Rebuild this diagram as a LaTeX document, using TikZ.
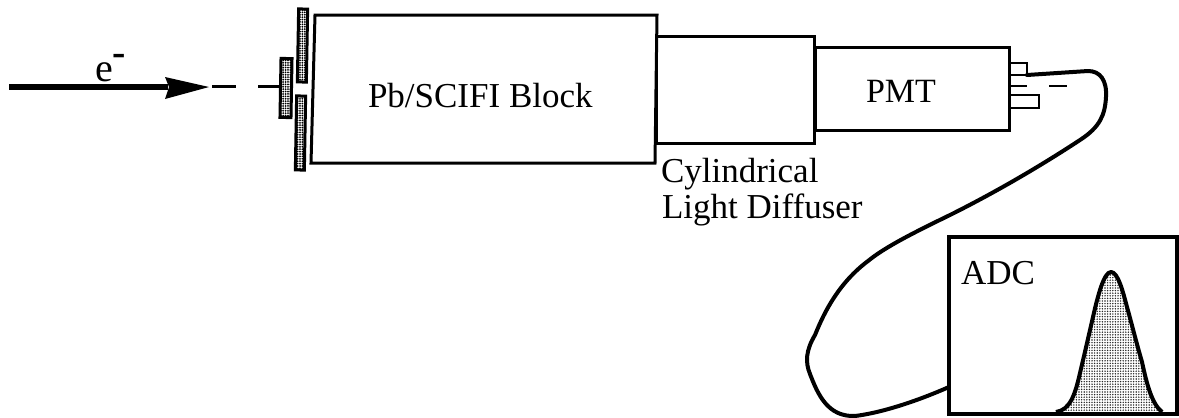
\documentclass[tikz,border=0pt]{standalone}
\usepackage{fontspec}
\setmainfont{Liberation Serif}
\usetikzlibrary{patterns.meta}
\tikzset{
  boxa/.style={draw=black,line width=3pt,rectangle,inner sep=0pt,outer sep=0pt},
  boxb/.style={draw=black,line width=3pt,rectangle,inner sep=0pt,outer sep=0pt},
  stub/.style={draw=black,line width=2.2pt,rectangle,inner sep=0pt,outer sep=0pt},
  plate/.style={draw=black,line width=3pt,rectangle,inner sep=0pt,outer sep=0pt,
    pattern={Dots[distance=2.4pt,radius=1pt]},pattern color=black,rotate=-1},
  cable/.style={draw=black,line width=4pt,line cap=round,line join=round},
  lbl/.style={inner sep=0pt,outer sep=0pt,anchor=base west,text=black},
  beam/.style={draw=black,line width=3pt}
}
\begin{document}
\begin{tikzpicture}[x=1pt,y=-1pt]
\useasboundingbox (0,0) rectangle (1179,418);
\fill[white] (0,0) rectangle (1179,418);

% scintillator plates
\node[plate,minimum width=9pt,minimum height=73pt] (upper) at (302.5,45.5) {};
\node[plate,minimum width=9pt,minimum height=74pt] (lower) at (300.5,133) {};
\node[plate,minimum width=11pt,minimum height=59pt] (front) at (286,88) {};

% block
\coordinate (bTL) at (315,15);
\coordinate (bTR) at (657,15);
\coordinate (bBR) at (655,163);
\coordinate (bBL) at (311,163);
\draw[line width=3pt,line join=miter] (bTL) -- (bTR) -- (bBR) -- (bBL) -- cycle;
\node[lbl,font=\fontsize{35}{38}\selectfont] (blocklabel) at (368,107) {Pb/SCIFI Block};

% diffuser and PMT
\node[boxb,minimum width=158pt,minimum height=107pt] (diff) at (735,90) {};
\node[boxb,minimum width=194pt,minimum height=83pt,fill=white] (pmt) at (912,88.5) {};
\node[lbl,font=\fontsize{34}{38}\selectfont] (pmtlabel) at (866,102) {PMT};
\node[lbl,font=\fontsize{35}{38}\selectfont] (cyl) at (661,182) {Cylindrical};
\node[lbl,font=\fontsize{35}{38}\selectfont] (lig) at (662,218) {Light Diffuser};

% PMT pins
\node[stub,minimum width=18pt,minimum height=12pt,anchor=north west] (pinA) at (1009,63) {};
\coordinate (pinBs) at (1009,86);
\coordinate (pinBe) at (1027,86);
\draw[line width=2.2pt] (pinBs) -- (pinBe);
\node[stub,minimum width=30pt,minimum height=13pt,anchor=north west] (pinC) at (1009,95) {};
\coordinate (dashA) at (1049,86);
\coordinate (dashB) at (1067,86);
\draw[line width=2.2pt] (dashA) -- (dashB);

% ADC
\node[boxa,line width=3.6pt,minimum width=228pt,minimum height=177pt] (adc) at (1063,325.5) {};
\node[lbl,font=\fontsize{35}{38}\selectfont] (adclabel) at (961,284) {ADC};

% cable
\draw[cable] (pinA.south east) -- (1088,71)
  .. controls (1100,71) and (1107,80) .. (1106,97)
  .. controls (1105,115) and (1100,127) .. (1080,140)
  .. controls (1045,163) and (1000,190) .. (950,215)
  .. controls (915,232) and (885,247) .. (868,261)
  .. controls (840,282) and (825,310) .. (815,335)
  .. controls (806,350) and (805,362) .. (810,374)
  .. controls (818,395) and (828,417) .. (855,416)
  .. controls (880,413) and (915,402) .. (adc.west |- 0,387);

% pulse
\coordinate (pS) at (1056,412);
\coordinate (pE) at (1162,412);
\path[pattern={Dots[distance=2.6pt,radius=0.8pt]},pattern color=black!85]
  (pS) .. controls (1070,410) and (1075,395) .. (1080,373)
  .. controls (1085,352) and (1090,330) .. (1093,317)
  .. controls (1098,295) and (1104,272) .. (1111,272)
  .. controls (1118,272) and (1123,292) .. (1127,307)
  .. controls (1132,325) and (1137,345) .. (1142,362)
  .. controls (1147,385) and (1152,404) .. (pE) -- cycle;
\draw[line width=4pt,line join=round]
  (pS) .. controls (1070,410) and (1075,395) .. (1080,373)
  .. controls (1085,352) and (1090,330) .. (1093,317)
  .. controls (1098,295) and (1104,272) .. (1111,272)
  .. controls (1118,272) and (1123,292) .. (1127,307)
  .. controls (1132,325) and (1137,345) .. (1142,362)
  .. controls (1147,385) and (1152,404) .. (pE);

% beam
\coordinate (bS) at (9,87);
\coordinate (bN) at (168,87);
\coordinate (bT) at (209,87);
\draw[line width=5.5pt] (bS) -- (bN);
\fill[black] (165,77) -- (bT) -- (165,99) -- (169,87) -- cycle;
\coordinate (d1s) at (212,86.5);
\coordinate (d1e) at (236,86.5);
\coordinate (d2s) at (258,86.5);
\draw[beam] (d1s) -- (d1e);
\draw[beam] (d2s) -- (front.west |- d2s);
\node[lbl,font=\fontsize{40}{44}\selectfont] (elabel) at (95,81) {e\raisebox{16pt}{\textbf{-}}};
\end{tikzpicture}
\end{document}
